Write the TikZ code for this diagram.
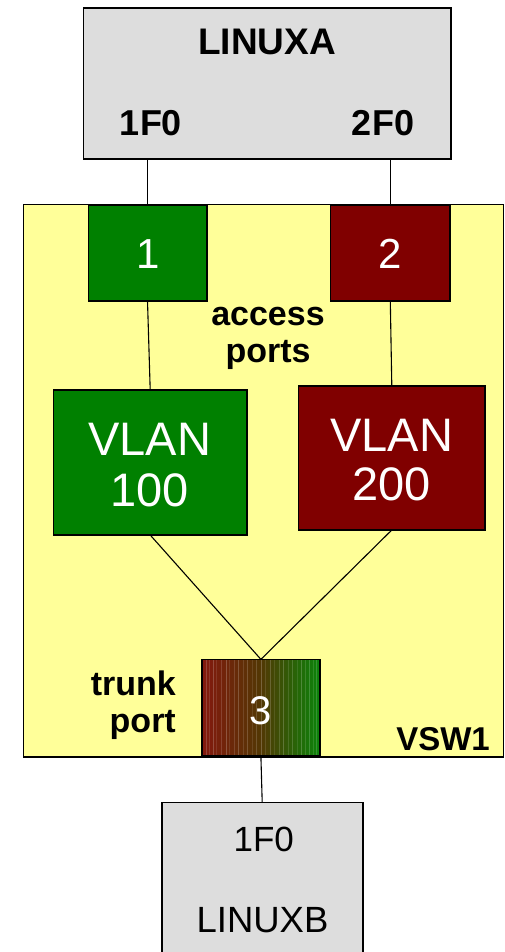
\documentclass[tikz,border=0pt]{standalone}
\usepackage{fontspec}
\setmainfont{Liberation Sans}
\definecolor{hostgray}{HTML}{DDDDDD}
\definecolor{swyellow}{HTML}{FFFF99}
\definecolor{vgreen}{HTML}{008000}
\definecolor{vred}{HTML}{800000}
\definecolor{trunkleft}{RGB}{132,24,14}
\definecolor{trunkmid}{RGB}{82,56,4}
\definecolor{trunkright}{RGB}{10,132,10}
\tikzset{
  frame/.style={draw=black, line width=1.6pt, inner sep=0pt, outer sep=0pt},
  wire/.style={draw=black, line width=1.1pt},
  boldtxt/.style={font=\bfseries\fontsize{#1}{#1}\selectfont, anchor=base, inner sep=0pt},
  plaintxt/.style={font=\fontsize{#1}{#1}\selectfont, anchor=base, inner sep=0pt},
  whitetxt/.style={plaintxt=#1, text=white},
}
\begin{document}
\begin{tikzpicture}[x=1pt,y=-1pt]
\useasboundingbox (0,0) rectangle (504,952);
\clip (0,0) rectangle (504,952);

% hosts and the virtual switch
\node[frame, fill=hostgray, minimum width=367.7pt, minimum height=151pt] (linuxa) at (267.2,83.8) {};
\node[frame, fill=swyellow, minimum width=480pt, minimum height=552.4pt] (vsw) at (263.3,480.5) {};
\node[frame, fill=hostgray, minimum width=201pt, minimum height=168pt] (linuxb) at (262.2,886.3) {};

% access ports
\node[frame, fill=vgreen, minimum width=118.4pt, minimum height=95.7pt] (p1) at (147.5,252.9) {};
\node[frame, fill=vred, minimum width=119.3pt, minimum height=95.7pt] (p2) at (390.3,252.9) {};

% VLANs
\node[frame, fill=vgreen, minimum width=193.7pt, minimum height=145pt] (v100) at (150.2,462.5) {};
\node[frame, fill=vred, minimum width=186.3pt, minimum height=144pt] (v200) at (391.8,458) {};

% trunk port carrying both VLANs
\node[frame, left color=trunkleft, right color=trunkright, middle color=trunkmid,
      minimum width=118.3pt, minimum height=96.7pt] (p3) at (260.9,707.7) {};
\begin{scope}
  \clip (p3.south west) rectangle (p3.north east);
  \foreach \sx/\so in {206/0.18,209/0.12,213/0.2,216/0.1,221/0.15,226/0.22,229/0.1,
                       234/0.14,238/0.2,243/0.12,247/0.18,252/0.1,256/0.16,261/0.22,
                       265/0.12,270/0.18,274/0.1,279/0.15,283/0.2,288/0.12,292/0.17,
                       297/0.1,301/0.2,305/0.14,309/0.18,313/0.12,316/0.16}
    \fill[white, opacity=\so] (\sx,659) rectangle ++(1.2,98);
\end{scope}
\draw[frame, fill=none] (p3.south west) rectangle (p3.north east);

% connectors
\draw[wire] (p1.north |- linuxa.south) -- (p1.north);
\draw[wire] (p2.north |- linuxa.south) -- (p2.north);
\draw[wire] (p1.south) -- (v100.north);
\draw[wire] (p2.south) -- (v200.north);
\draw[wire] (v100.south) -- (p3.north);
\draw[wire] (v200.south) -- (p3.north);
\draw[wire] (p3.south) -- (linuxb.north);

% texts
\node[boldtxt=37] (tlinuxa) at (267.2,55) {LINUXA};
\node[boldtxt=36] (ta1) at (151,136) {1F0};
\node[boldtxt=36] (ta2) at (383,136) {2F0};
\node[whitetxt=42] (t1) at (147.7,268) {1};
\node[whitetxt=42] (t2) at (390.2,268) {2};
\node[boldtxt=34] (tacc) at (268,325) {access};
\node[boldtxt=34] (tports) at (268,362) {ports};
\node[whitetxt=47] (tv1a) at (149.7,455) {VLAN};
\node[whitetxt=47] (tv1b) at (149.7,506.7) {100};
\node[whitetxt=47] (tv2a) at (391.7,451) {VLAN};
\node[whitetxt=47] (tv2b) at (391.7,500.7) {200};
\node[boldtxt=34, anchor=base east] (ttrunk) at (176,695) {trunk};
\node[boldtxt=34, anchor=base east] (tport) at (176,732) {port};
\node[whitetxt=40] (t3) at (261,724) {3};
\node[boldtxt=33, anchor=base east] (tvsw) at (490,750) {VSW1};
\node[plaintxt=35] (tb1) at (263.7,851.7) {1F0};
\node[plaintxt=36.5] (tlinuxb) at (262.5,932.7) {LINUXB};
\end{tikzpicture}
\end{document}
